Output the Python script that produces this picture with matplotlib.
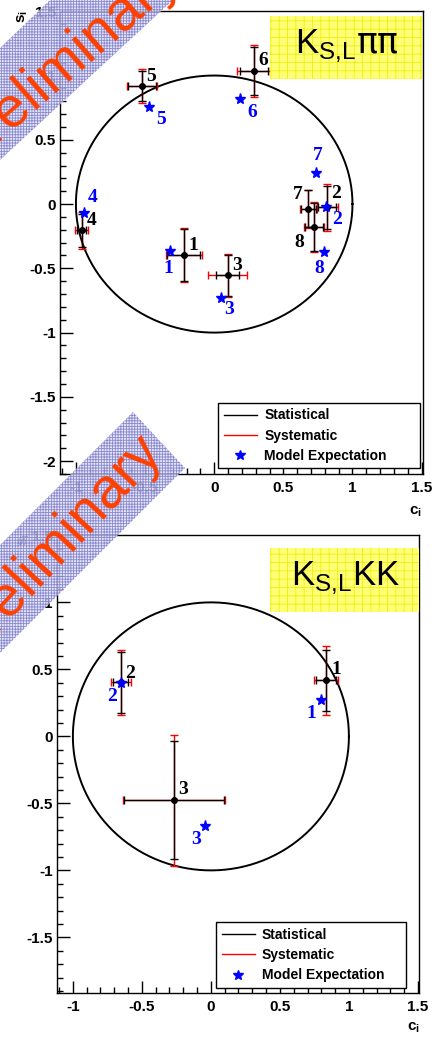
import matplotlib.pyplot as plt
import numpy as np
from matplotlib.lines import Line2D
from matplotlib.patches import Polygon, Rectangle
from matplotlib.ticker import MultipleLocator, FormatStrFormatter

plt.rcParams['font.family'] = ['Liberation Sans', 'DejaVu Sans']
plt.rcParams['axes.unicode_minus'] = False
plt.rcParams['mathtext.fontset'] = 'custom'
plt.rcParams['mathtext.rm'] = 'Liberation Sans'
plt.rcParams['mathtext.bf'] = 'Liberation Sans:bold'
plt.rcParams['mathtext.sf'] = 'DejaVu Sans'
plt.rcParams['hatch.linewidth'] = 0.6

# K_S,L pi pi : measured (c_i, s_i), errors and model expectation
pp_bins = ['1', '2', '3', '4', '5', '6', '7', '8']
pp_c = [-0.219, 0.817, 0.097, -0.959, -0.521, 0.287, 0.680, 0.721]
pp_s = [-0.397, -0.026, -0.553, -0.205, 0.918, 1.035, -0.037, -0.179]
pp_stat_c = [0.12, 0.065, 0.086, 0.035, 0.10, 0.10, 0.055, 0.065]
pp_stat_s = [0.20, 0.167, 0.16, 0.13, 0.12, 0.19, 0.145, 0.185]
pp_tot_c = [0.13, 0.075, 0.143, 0.045, 0.11, 0.12, 0.063, 0.075]
pp_tot_s = [0.21, 0.182, 0.168, 0.145, 0.135, 0.205, 0.15, 0.195]
pp_model_c = [-0.320, 0.808, 0.046, -0.942, -0.472, 0.186, 0.735, 0.793]
pp_model_s = [-0.363, -0.021, -0.729, -0.072, 0.753, 0.817, 0.239, -0.376]

# K_S,L K K
kk_bins = ['1', '2', '3']
kk_c = [0.833, -0.652, -0.268]
kk_s = [0.418, 0.403, -0.478]
kk_stat_c = [0.07, 0.055, 0.36]
kk_stat_s = [0.225, 0.225, 0.44]
kk_tot_c = [0.088, 0.07, 0.37]
kk_tot_s = [0.255, 0.24, 0.49]
kk_model_c = [0.795, -0.652, -0.04]
kk_model_s = [0.269, 0.40, -0.672]

# label offsets in pixels (black = measurement, blue = model)
pp_blk_off = [(9, 10), (9, 14), (9, 10), (10, 10), (9, 10), (9, 11), (-10, 14), (-15, -15)]
pp_blu_off = [(-2, -18), (11, -13), (9, -12), (9, 16), (12, -12), (12, -13), (2, 18), (-5, -16)]
kk_blk_off = [(10, 11), (9, 9), (9, 11)]
kk_blu_off = [(-9, -13), (-9, -14), (-9, -13)]

W, H = 438, 1037
fig = plt.figure(figsize=(W / 100, H / 100), dpi=100)


def px(x, y):
    return (x / W, 1 - y / H)


def draw_panel(ax, c, s, stat_c, stat_s, tot_c, tot_s, mc, ms, bins,
               blk_off, blu_off, ylim, title, box, title_xy, leg_box, slab_xy, clab_xy):
    t = np.linspace(0, 2 * np.pi, 400)
    ax.plot(np.cos(t), np.sin(t), color='black', lw=1.4, zorder=2)
    ax.errorbar(c, s, xerr=tot_c, yerr=tot_s, fmt='none', ecolor='red',
                elinewidth=1, capsize=3, capthick=1, zorder=3)
    ax.errorbar(c, s, xerr=stat_c, yerr=stat_s, fmt='o', color='black', ms=4,
                elinewidth=1, capsize=3, capthick=1, zorder=4)
    ax.plot(mc, ms, ls='none', marker='*', color='blue', ms=8, zorder=5)
    for i, b in enumerate(bins):
        ax.annotate(b, (c[i], s[i]), xytext=(blk_off[i][0] * 0.72, blk_off[i][1] * 0.72),
                    textcoords='offset points', ha='center', va='center',
                    fontsize=14, fontweight='bold', family='Liberation Serif', color='black', zorder=6)
        ax.annotate(b, (mc[i], ms[i]), xytext=(blu_off[i][0] * 0.72, blu_off[i][1] * 0.72),
                    textcoords='offset points', ha='center', va='center',
                    fontsize=14, fontweight='bold', family='Liberation Serif', color='blue', zorder=6)

    ax.set_xlim(-1.115, 1.51)
    ax.set_ylim(*ylim)
    ax.xaxis.set_major_locator(MultipleLocator(0.5))
    ax.xaxis.set_minor_locator(MultipleLocator(0.1))
    ax.yaxis.set_major_locator(MultipleLocator(0.5))
    ax.yaxis.set_minor_locator(MultipleLocator(0.1))
    ax.xaxis.set_major_formatter(FormatStrFormatter('%g'))
    ax.yaxis.set_major_formatter(FormatStrFormatter('%g'))
    ax.tick_params(which='both', direction='in', top=False, right=False, width=1)
    ax.tick_params(which='major', length=9, labelsize=11)
    ax.tick_params(which='minor', length=4.5)
    ax.tick_params(axis='x', pad=5)
    ax.tick_params(axis='y', pad=3)
    for lab in ax.get_xticklabels() + ax.get_yticklabels():
        lab.set_fontweight('bold')
    for sp in ax.spines.values():
        sp.set_linewidth(1)

    ax.add_patch(Rectangle((box[0], box[1]), box[2] - box[0], box[3] - box[1],
                           transform=ax.transAxes, facecolor='#ffff77', edgecolor='#eeee10',
                           hatch='++', lw=0, clip_on=False, zorder=7))
    ax.text(title_xy[0], title_xy[1], title, transform=ax.transAxes, ha='center', va='center',
            fontsize=25, zorder=8)

    handles = [Line2D([], [], color='black', lw=1),
               Line2D([], [], color='red', lw=1),
               Line2D([], [], color='blue', marker='*', ls='none', ms=7)]
    leg = ax.legend(handles, ['Statistical', 'Systematic', 'Model Expectation'],
                    loc='lower left', bbox_to_anchor=leg_box, mode='expand', borderaxespad=0,
                    prop={'weight': 'bold', 'size': 10}, frameon=True, fancybox=False,
                    edgecolor='black', framealpha=1, handlelength=2.4, handletextpad=0.5,
                    labelspacing=0.45, borderpad=0.4)
    leg.get_frame().set_linewidth(1)
    leg.set_zorder(9)

    ax.text(slab_xy[0], slab_xy[1], r'$\mathbf{s_i}$', transform=ax.transAxes,
            rotation=90, ha='center', va='center', fontsize=11)
    ax.text(clab_xy[0], clab_xy[1], r'$\mathbf{c_i}$', transform=ax.transAxes,
            ha='center', va='center', fontsize=11)


ax1 = fig.add_axes([60 / W, 1 - 474 / H, 363 / W, 463 / H])
draw_panel(ax1, pp_c, pp_s, pp_stat_c, pp_stat_s, pp_tot_c, pp_tot_s, pp_model_c, pp_model_s,
           pp_bins, pp_blk_off, pp_blu_off, (-2.1, 1.502), r'K$_{\mathregular{S{,}L}}\mathsf{\pi\pi}$',
           (0.5785, 0.853, 0.998, 0.990), (0.79, 0.925), (0.436, 0.012, 0.556, 0.151),
           (-0.102, 0.989), (0.978, -0.081))

ax2 = fig.add_axes([57 / W, 1 - 993 / H, 362.3 / W, 458.3 / H])
draw_panel(ax2, kk_c, kk_s, kk_stat_c, kk_stat_s, kk_tot_c, kk_tot_s, kk_model_c, kk_model_s,
           kk_bins, kk_blk_off, kk_blu_off, (-1.915, 1.505), r'K$_{\mathregular{S{,}L}}$KK',
           (0.588, 0.831, 1.0, 0.972), (0.795, 0.905), (0.439, 0.011, 0.523, 0.151),
           (-0.088, 0.989), (0.983, -0.076))

# "Preliminary" stamps
band1 = [px(50, 0), px(173, 0), px(0, 160), px(0, 48)]
band2 = [px(133, 412), px(185, 468), px(-115, 768), px(-167, 712)]
for band in (band1, band2):
    fig.patches.append(Polygon(band, closed=True, transform=fig.transFigure,
                               facecolor=(0.88, 0.88, 0.96), edgecolor=(0.45, 0.45, 0.78),
                               hatch='++++++', lw=0, alpha=0.8, zorder=10))
for (x, y), rot in ((px(64, 62), 41), (px(55, 545), 47)):
    fig.text(x, y, 'Preliminary', ha='center', va='center', rotation=rot,
             rotation_mode='anchor', fontsize=41, color='#ff4000', zorder=11)

fig.savefig('out.png', dpi=100)
